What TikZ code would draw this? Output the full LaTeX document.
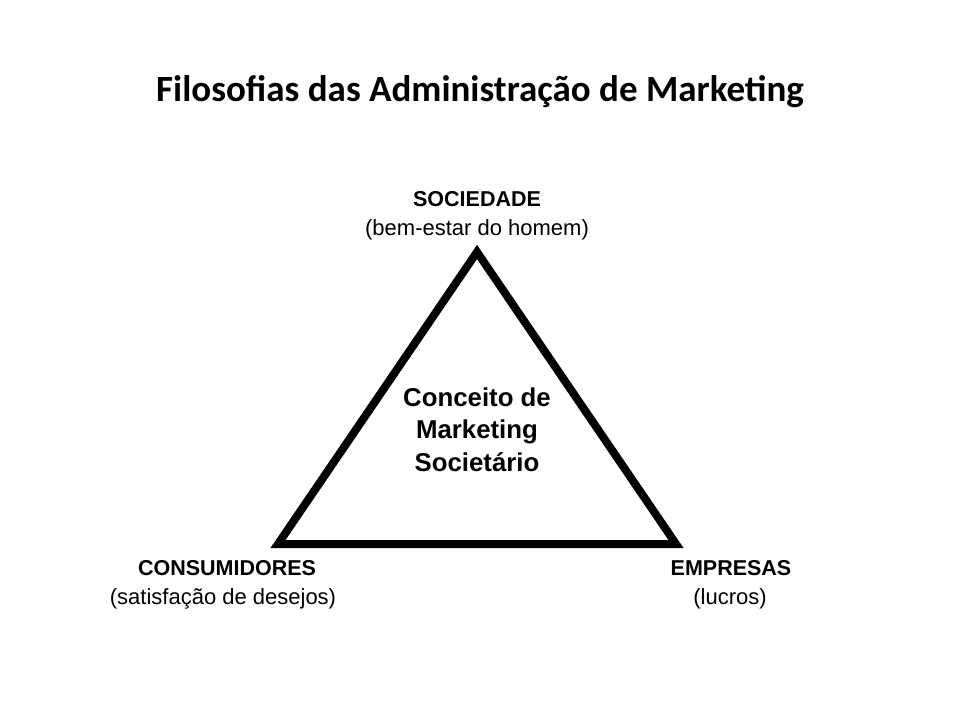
\documentclass[tikz,border=0pt]{standalone}
\usepackage{fontspec}
\setmainfont{Liberation Sans}
\newfontfamily\titlefont{Carlito}
\begin{document}
\begin{tikzpicture}[x=1pt,y=-1pt,
  lbl/.style={inner sep=0pt,anchor=base,font=\fontsize{22}{26}\selectfont},
  caplbl/.style={inner sep=0pt,anchor=base,font=\bfseries\fontsize{21.5}{26}\selectfont},
  ttl/.style={inner sep=0pt,anchor=base,font=\titlefont\bfseries\fontsize{37}{44}\selectfont},
  ctr/.style={inner sep=0pt,anchor=base,font=\bfseries\fontsize{25.8}{30}\selectfont},
  tri/.style={line width=8pt,line join=miter,draw=black}]
\useasboundingbox[fill=white] (0,0) rectangle (960,720);
\node[ttl] (title) at (480,101) {Filosofias das Administração de Marketing};
\coordinate (A) at (477,252);
\coordinate (B) at (278,544);
\coordinate (C) at (676,544);
\draw[tri] (A) -- (B) -- (C) -- cycle;
\node[caplbl] (soc) at (477,206) {SOCIEDADE};
\node[lbl] (socs) at (477,235) {(bem-estar do homem)};
\node[caplbl] (con) at (227,575) {CONSUMIDORES};
\node[lbl] (cons) at (223,604) {(satisfação de desejos)};
\node[caplbl] (emp) at (731,575) {EMPRESAS};
\node[lbl] (emps) at (730,604) {(lucros)};
\node[ctr] (mid1) at (477,406) {Conceito de};
\node[ctr] (mid2) at (477,438.5) {Marketing};
\node[ctr] (mid3) at (477,471) {Societário};
\end{tikzpicture}
\end{document}
